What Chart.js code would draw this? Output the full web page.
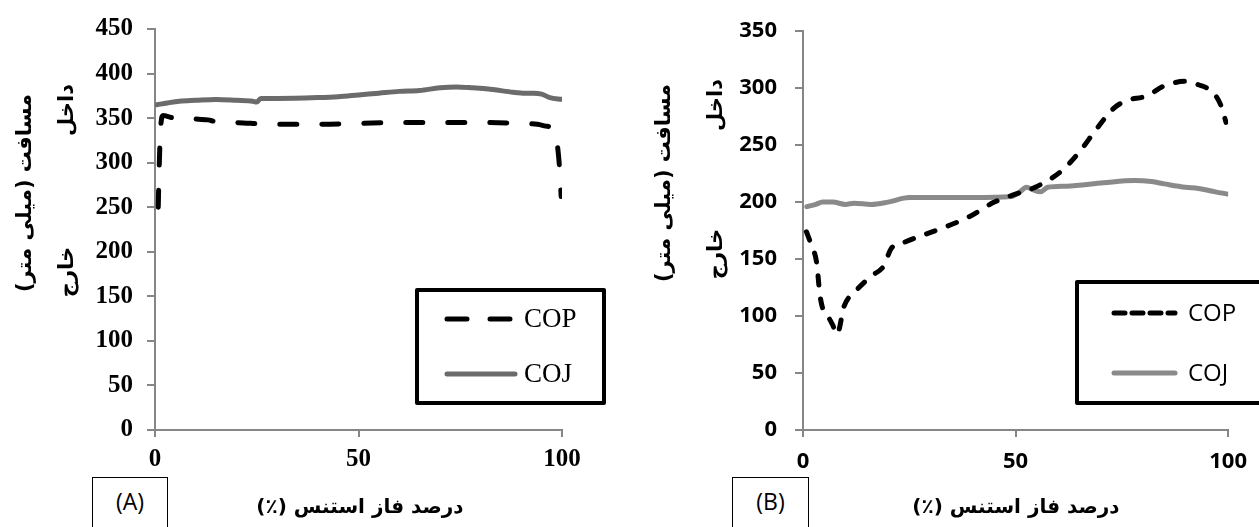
<!DOCTYPE html>
<html>
<head>
<meta charset="utf-8">
<script src="https://cdn.jsdelivr.net/npm/chart.js@4.4.1/dist/chart.umd.min.js"></script>
<style>
  html, body { margin:0; padding:0; background:#fff; }
  body { width:1259px; height:527px; position:relative; overflow:hidden; }
  canvas { position:absolute; top:0; }
  .t { position:absolute; white-space:nowrap; font-family:"DejaVu Sans", sans-serif; font-weight:bold; color:#000; direction:rtl; }
  .rot { transform:translate(-50%,-50%) rotate(-90deg); }
  .ctr { transform:translate(-50%,-50%); }
  .tag { position:absolute; border:1px solid #000; box-sizing:border-box; font-family:"Open Sans", sans-serif; font-size:23px; text-align:center; padding-top:8px; line-height:30px; background:#fff; }
</style>
</head>
<body>
<canvas id="cA" width="630" height="527" style="left:0"></canvas>
<canvas id="cB" width="619" height="527" style="left:640px"></canvas>

<div class="t rot" style="left:24px;top:193px;font-size:21px">مسافت (میلی متر)</div>
<div class="t rot" style="left:66px;top:110px;font-size:21px">داخل</div>
<div class="t rot" style="left:66px;top:272px;font-size:21px">خارج</div>
<div class="t ctr" style="left:360px;top:506px;font-size:20px">درصد فاز استنس (٪)</div>
<div class="tag" style="left:92px;top:477px;width:76px;height:60px">(A)</div>

<div class="t rot" style="left:663px;top:183px;font-size:21px">مسافت (میلی متر)</div>
<div class="t rot" style="left:715px;top:105px;font-size:21px">داخل</div>
<div class="t rot" style="left:715px;top:254px;font-size:21px">خارج</div>
<div class="t ctr" style="left:1016px;top:506px;font-size:20px">درصد فاز استنس (٪)</div>
<div class="tag" style="left:732px;top:477px;width:77px;height:60px">(B)</div>

<script>
// ---------- DATA ----------
const seriesNames = ["COP", "COJ"];
const xTicks = [0, 50, 100];
const yTicksA = [0, 50, 100, 150, 200, 250, 300, 350, 400, 450];
const yTicksB = [0, 50, 100, 150, 200, 250, 300, 350];

// Chart A
const copA_x = [0.8, 1.0, 1.4, 2, 3, 5, 8, 10, 13, 15, 20, 30, 40, 50, 60, 70, 80, 90, 94, 96, 97.5, 98.5, 99.3, 99.8];
const copA_y = [250, 290, 340, 353, 352, 350, 351, 349, 348, 346, 345, 343, 343, 344, 345, 345, 345, 344, 343, 341, 339, 330, 300, 262];
const cojA_x = [0.5, 3, 6, 10, 15, 20, 24, 25, 26, 30, 40, 45, 50, 55, 60, 65, 70, 74, 78, 83, 88, 91, 93, 95, 97, 100];
const cojA_y = [365, 367, 369, 370, 371, 370, 369, 368, 372, 372, 373, 374, 376, 378, 380, 381, 384, 385, 384, 382, 379, 378, 378, 377, 373, 371];

// Chart B
const copB_x = [0.8, 2, 3.2, 4, 5, 5.8, 7, 8, 9.7, 12.4, 16, 19, 20.7, 24, 29, 34, 39, 45, 50, 54.6, 60.7, 65, 69, 73, 76, 80.7, 85, 90, 93, 96.5, 98.4, 99.5];
const copB_y = [174, 162, 147, 118, 103, 100, 92, 84, 109, 122, 135, 144, 159, 165, 172, 179, 187, 200, 207, 213, 227, 244, 264, 282, 289, 293, 302, 306, 303, 296, 284, 270];
const cojB_x = [0.9, 3, 4.6, 7, 10, 12, 16, 20, 25, 30, 40, 49, 51, 52.6, 54, 55.8, 57.6, 62, 70.7, 78, 82, 85, 90, 93, 97, 100];
const cojB_y = [196, 198, 200, 200, 198, 199, 198, 200, 204, 204, 204, 205, 209, 213, 211, 209, 213, 214, 217, 219, 218, 216, 213, 212, 209, 207];

// ---------- helpers ----------
const pts = (xs, ys) => xs.map((x, i) => ({x: x, y: ys[i]}));

const boxLegend = {
  id: 'boxLegend',
  afterDraw(chart, args, opts) {
    const ctx = chart.ctx;
    ctx.save();
    ctx.lineWidth = 4;
    ctx.strokeStyle = '#000';
    ctx.lineJoin = 'round';
    ctx.strokeRect(opts.box[0], opts.box[1], opts.box[2], opts.box[3]);
    chart.data.datasets.forEach((ds, i) => {
      const y = opts.rows[i];
      ctx.save();
      ctx.strokeStyle = ds.borderColor;
      ctx.lineWidth = ds.borderWidth;
      ctx.lineCap = 'round';
      ctx.setLineDash(ds.legendDash || []);
      ctx.beginPath();
      ctx.moveTo(opts.sample[0], y);
      ctx.lineTo(opts.sample[1], y);
      ctx.stroke();
      ctx.restore();
      ctx.fillStyle = '#000';
      ctx.font = opts.font;
      ctx.textBaseline = 'middle';
      ctx.textAlign = 'left';
      ctx.fillText(ds.label, opts.textX, y + 1);
    });
    ctx.restore();
  }
};

function makeChart(id, cfg) {
  const axisColor = '#868686';
  return new Chart(document.getElementById(id), {
    type: 'line',
    data: {
      datasets: [
        { label: seriesNames[0], data: pts(cfg.copX, cfg.copY), borderColor: '#000', borderWidth: 5,
          borderDash: cfg.dash, legendDash: cfg.legendDash, borderCapStyle: 'round', pointRadius: 0,
          cubicInterpolationMode: 'monotone', fill: false },
        { label: seriesNames[1], data: pts(cfg.cojX, cfg.cojY), borderColor: cfg.cojColor, borderWidth: 5,
          borderCapStyle: 'round', pointRadius: 0, cubicInterpolationMode: 'monotone', fill: false }
      ]
    },
    options: {
      responsive: false,
      animation: false,
      devicePixelRatio: 1,
      layout: { padding: { left: 0, top: 24, right: cfg.padRight, bottom: 0 } },
      plugins: { legend: { display: false }, tooltip: { enabled: false }, boxLegend: cfg.legend },
      scales: {
        x: {
          type: 'linear', min: 0, max: 100,
          afterBuildTicks: s => { s.ticks = xTicks.map(v => ({value: v})); },
          afterFit: s => { s.height = 97; },
          grid: { drawOnChartArea: false, drawTicks: true, tickLength: 7, color: axisColor, lineWidth: 2 },
          border: { display: true, color: axisColor, width: 2 },
          ticks: { color: '#000', padding: cfg.xPad, font: cfg.tickFont, maxRotation: 0 }
        },
        y: {
          type: 'linear', min: 0, max: cfg.yMax,
          afterBuildTicks: s => { s.ticks = cfg.yTicks.map(v => ({value: v})); },
          afterFit: s => { s.width = cfg.yWidth; },
          grid: { drawOnChartArea: false, drawTicks: true, tickLength: 8, color: axisColor, lineWidth: 2 },
          border: { display: true, color: axisColor, width: 2 },
          ticks: { color: '#000', padding: cfg.yPad, font: cfg.tickFont }
        }
      }
    },
    plugins: [boxLegend]
  });
}

makeChart('cA', {
  copX: copA_x, copY: copA_y, cojX: cojA_x, cojY: cojA_y,
  dash: [17, 25], legendDash: [20, 23], cojColor: '#6b6b6b',
  yMax: 450, yTicks: yTicksA, yWidth: 155, padRight: 68, xPad: 8, yPad: 14,
  tickFont: { family: 'Liberation Serif', weight: 'bold', size: 25 },
  legend: { box: [417, 290, 187, 113], sample: [447, 515], rows: [319, 374], textX: 524,
            font: '27px "Liberation Serif"' }
});

makeChart('cB', {
  copX: copB_x, copY: copB_y, cojX: cojB_x, cojY: cojB_y,
  dash: [9, 14], legendDash: [11, 7], cojColor: '#8a8a8a',
  yMax: 350, yTicks: yTicksB, yWidth: 163, padRight: 22, xPad: 12, yPad: 18,
  tickFont: { family: 'Open Sans', weight: 'bold', size: 22 },
  legend: { box: [437, 282, 200, 121], sample: [474, 535], rows: [313, 373], textX: 548,
            font: '24px "Open Sans"' }
});
</script>
</body>
</html>
